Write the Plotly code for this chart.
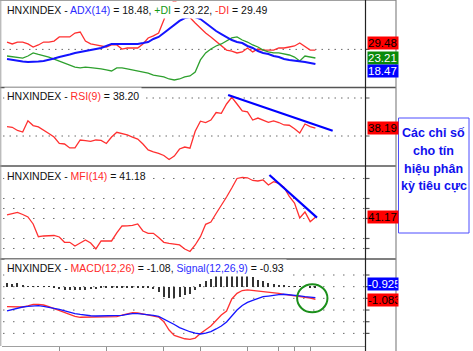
import plotly.graph_objects as go

W, H = 473, 351

days = list(range(60))

adx = [22.4,21.7,20.9,20.5,20.1,20.1,20.5,20.9,21.7,22.8,24,24.8,26,27.2,28,28.7,29.5,30.3,31.1,32.7,
       34.3,34.3,34.3,34.3,34.3,34.3,35,35.8,38.2,39.8,42.9,46.1,49.2,52.4,54.7,55.5,55.5,53.9,50.8,47.6,
       44.5,42.1,39.8,37.4,35.8,35,32.7,31.1,28.7,27.2,26.4,24.8,24,22.4,21.7,21.3,20.9,20.1,19.3,18.48]
plus_di = [24.8,24.4,24,23.2,24.8,27.2,26,25.2,24,22.4,20.9,19.3,17.7,16.1,15.4,16.1,15.7,15.4,14.6,13.8,
           13,15.4,15.4,14.6,13.8,13,12.2,11.4,9.8,9.1,8.3,6.7,5.9,6.7,8.3,9.1,12.2,21.7,27.2,30.3,
           32.7,34.3,37,39,39.8,37.4,35.8,33.5,31.9,29.5,28,27.2,27.2,26.4,25.6,24,20.9,24.8,24,23.22]
minus_di = [35.8,34.3,35.8,35.8,34.3,31.9,33.5,35.8,35.8,36.6,39.8,39.8,39.8,42.9,43.7,36.6,34.3,33.5,32.7,31.9,
            33.5,33.5,30.3,31.1,31.1,31.1,34.3,39,40.6,42.9,53.1,65,68.1,65.7,59.4,54.7,50.8,46.9,42.9,39.8,
            36.6,32.7,29.5,28.7,27.2,28,31.1,28,30.3,29.5,29.5,29.5,31.1,31.1,31.9,32.7,35,31.9,29.5,29.49]
rsi = [39.8,39.2,35.8,34.2,46.0,41.0,39.5,35.6,32.6,28.9,22.1,21.6,17.4,17.4,25.8,25.1,24.4,25.8,25.3,22.1,
       28.9,33.9,32.6,31.1,28.9,26.8,21.6,15.3,13.2,11.8,9.5,5.3,8.9,16.3,18.4,17.1,35.0,45.6,44.2,46.8,
       54.7,53.9,63.7,70.8,63.7,56.3,55.3,46.8,48.9,46.8,44.4,45.8,44.2,41.6,41.3,37.7,33.2,42.6,39.8,38.20]
mfi = [43.5,45,46,44,41.5,34.5,21.8,22.5,22.5,23,21.5,16.2,16.2,12.5,15.5,18.5,15.5,9.5,17.5,17.5,
       17.5,25.5,32.5,32.7,33,34.5,27.5,25.2,25.2,21,16.2,15.2,14.2,13.5,9.5,7,13.5,21.8,34.2,36.5,
       45,53,61.5,70.5,80,81,80.7,78,77.5,78.5,73.5,76.8,75.2,71,62,55.5,40.5,46.5,36.8,41.18]
macd = [-1.71,-1.71,-1.71,-1.74,-1.65,-1.51,-1.51,-1.57,-1.70,-1.87,-2.04,-2.25,-2.43,-2.55,-2.62,-2.62,-2.62,-2.62,-2.62,-2.60,
        -2.57,-2.57,-2.43,-2.30,-2.23,-2.25,-2.34,-2.43,-2.51,-2.60,-3.0,-3.71,-4.18,-4.35,-4.46,-4.51,-4.40,-4.01,-3.71,-3.37,
        -2.90,-2.43,-2.08,-1.05,-0.57,-0.33,-0.28,-0.33,-0.37,-0.43,-0.45,-0.48,-0.57,-0.65,-0.71,-0.77,-0.81,-0.86,-0.97,-1.08]
signal = [-2.08,-1.95,-1.85,-1.74,-1.68,-1.63,-1.63,-1.68,-1.74,-1.85,-1.95,-2.08,-2.19,-2.30,-2.38,-2.45,-2.49,-2.51,-2.51,-2.51,
          -2.51,-2.51,-2.45,-2.38,-2.30,-2.30,-2.34,-2.38,-2.45,-2.54,-2.75,-2.96,-3.24,-3.50,-3.71,-3.86,-3.97,-4.05,-3.97,-3.84,
          -3.62,-3.37,-3.02,-2.51,-2.0,-1.61,-1.35,-1.17,-1.01,-0.86,-0.80,-0.71,-0.68,-0.65,-0.68,-0.71,-0.78,-0.86,-0.88,-0.93]
hist = [0.35,0.25,0.3,0.1,0.05,0.05,0.05,0.05,0.05,-0.15,-0.2,-0.25,-0.25,-0.25,-0.25,-0.25,-0.2,-0.2,-0.1,-0.05,
        -0.05,-0.05,-0.05,-0.05,-0.05,-0.05,-0.05,-0.15,-0.2,-0.45,-0.85,-1.0,-1.0,-0.9,-0.75,-0.6,-0.3,0.2,0.5,0.7,
        0.95,1.0,1.0,1.0,1.0,1.1,1.0,0.85,0.6,0.5,0.3,0.2,0.15,0.1,0.05,0.03,0.02,0.0,-0.03,-0.05]

rsi_trend_x = [42.3, 62.3]
rsi_trend_y = [73.2, 35.6]
mfi_trend_x = [50.2, 59.3]
mfi_trend_y = [83.5, 40.8]
circle_x = [55.5, 61.3]
circle_y = [-2.19, 0.21]

adx_levels = [30]
rsi_levels = [70, 30]
mfi_levels = [80, 60, 50, 40, 20, 10]
macd_levels = [1, 0, -1, -2, -3, -4]
x_ticks = [10, 19, 30, 37, 46, 52, 55, 58]

titles = [
    'HNXINDEX - <span style="color:#2a2aff">ADX(14)</span> = 18.48, <span style="color:#119911">+DI</span> = 23.22, <span style="color:#ff2a2a">-DI</span> = 29.49',
    'HNXINDEX - <span style="color:#ff2a2a">RSI(9)</span> = 38.20',
    'HNXINDEX - <span style="color:#ff2a2a">MFI(14)</span> = 41.18',
    'HNXINDEX - <span style="color:#ff2a2a">MACD(12,26)</span> = -1.08, <span style="color:#2a2aff">Signal(12,26,9)</span> = -0.93',
]
value_labels = [
    # (text, bg, fg, pixel y)
    ("29.48", "#ff0000", "#000000", 43),
    ("23.21", "#0a8a0a", "#ffffff", 57.5),
    ("18.47", "#0000ff", "#ffffff", 71),
    ("38.19", "#ff0000", "#000000", 128),
    ("41.17", "#ff0000", "#000000", 216.7),
    ("-0.925", "#0000ff", "#ffffff", 284),
    ("-1.083", "#ff0000", "#000000", 300),
]
note_lines = ["Các chỉ số", "cho tín", "hiệu phân", "kỳ tiêu cực"]

RED = "#ff3030"
BLUE = "#1414ff"
GREEN = "#2ea02e"


def PX(x):
    return x / W


def PY(y):
    return 1 - y / H


panels = [(0, 87.5), (87.5, 166), (166, 259), (259, 346)]
ranges = [[0, 68.9], [-1.58, 81.05], [-0.52, 92.48], [-5.08, 2.37]]
title_y = [10, 96, 175.7, 267.7]

fig = go.Figure()

fig.add_trace(go.Scatter(x=days, y=minus_di, mode="lines", line=dict(color=RED, width=1.3), yaxis="y"))
fig.add_trace(go.Scatter(x=days, y=plus_di, mode="lines", line=dict(color=GREEN, width=1.3), yaxis="y"))
fig.add_trace(go.Scatter(x=days, y=adx, mode="lines", line=dict(color=BLUE, width=2), yaxis="y"))

fig.add_trace(go.Scatter(x=days, y=rsi, mode="lines", line=dict(color=RED, width=1.3), yaxis="y2"))
fig.add_trace(go.Scatter(x=rsi_trend_x, y=rsi_trend_y, mode="lines", line=dict(color="#0000ff", width=2.2), yaxis="y2"))

fig.add_trace(go.Scatter(x=days, y=mfi, mode="lines", line=dict(color=RED, width=1.3), yaxis="y3"))
fig.add_trace(go.Scatter(x=mfi_trend_x, y=mfi_trend_y, mode="lines", line=dict(color="#0000ff", width=2.2), yaxis="y3"))

fig.add_trace(go.Bar(x=days, y=hist, width=0.19, marker=dict(color="#333333", line=dict(width=0)), yaxis="y4"))
fig.add_trace(go.Scatter(x=days, y=macd, mode="lines", line=dict(color=RED, width=1.3), yaxis="y4"))
fig.add_trace(go.Scatter(x=days, y=signal, mode="lines", line=dict(color=BLUE, width=1.3), yaxis="y4"))

shapes = []
annotations = []

# dotted level lines
level_sets = [(adx_levels, "y", "1.5px,5px"), (rsi_levels, "y2", "1.5px,5px"),
              (mfi_levels, "y3", "1.5px,8.5px"), (macd_levels, "y4", "1.5px,8.5px")]
for levels, yref, dash in level_sets:
    for lv in levels:
        shapes.append(dict(type="line", xref="paper", yref=yref, x0=PX(3), x1=PX(365), y0=lv, y1=lv,
                           line=dict(color="#6a6a6a", width=1, dash=dash), layer="below"))
        shapes.append(dict(type="line", xref="paper", yref=yref, x0=PX(365), x1=PX(369.5), y0=lv, y1=lv,
                           line=dict(color="#555555", width=1.2)))

# panel borders
for yb in [87.5, 166, 259]:
    shapes.append(dict(type="line", xref="paper", yref="paper", x0=0, x1=PX(396), y0=PY(yb), y1=PY(yb),
                       line=dict(color="#555555", width=1.5)))
shapes.append(dict(type="line", xref="paper", yref="paper", x0=0, x1=PX(396), y0=PY(0.5), y1=PY(0.5),
                   line=dict(color="#a0a0a0", width=1)))
shapes.append(dict(type="line", xref="paper", yref="paper", x0=PX(0.8), x1=PX(0.8), y0=PY(0), y1=PY(346),
                   line=dict(color="#a0a0a0", width=1)))
shapes.append(dict(type="line", xref="paper", yref="paper", x0=PX(365.5), x1=PX(365.5), y0=PY(0), y1=PY(351),
                   line=dict(color="#222222", width=1.2)))
shapes.append(dict(type="line", xref="paper", yref="paper", x0=PX(396), x1=PX(396), y0=PY(0), y1=PY(351),
                   line=dict(color="#888888", width=1.2)))

# highlight circle
shapes.append(dict(type="circle", xref="x", yref="y4", x0=circle_x[0], x1=circle_x[1],
                   y0=circle_y[0], y1=circle_y[1], line=dict(color="#1b8f1b", width=2)))

# note box
shapes.append(dict(type="rect", xref="paper", yref="paper", x0=PX(398.5), x1=PX(469), y0=PY(118), y1=PY(233),
                   line=dict(color="#4d4dff", width=1), fillcolor="white"))

for t, ty in zip(titles, title_y):
    annotations.append(dict(text=t, x=PX(4), y=PY(ty), xref="paper", yref="paper", xanchor="left",
                            yanchor="middle", showarrow=False, bgcolor="white", borderpad=2,
                            font=dict(family="Liberation Sans, Arial", size=10.5, color="#111111")))

for txt, bg, fg, vy in value_labels:
    annotations.append(dict(text=txt, x=PX(366.5), y=PY(vy), xref="paper", yref="paper", xanchor="left",
                            yanchor="middle", showarrow=False, bgcolor=bg, borderpad=0, width=29.5,
                            height=11.5, align="left",
                            font=dict(family="Liberation Sans, Arial", size=11.5, color=fg)))

for i, line in enumerate(note_lines):
    annotations.append(dict(text="<b>" + line + "</b>", x=PX(433.5), y=PY(133 + i * 17.8), xref="paper",
                            yref="paper", xanchor="center", yanchor="middle", showarrow=False,
                            font=dict(family="Liberation Sans, Arial", size=12.5, color="#1010ee")))

layout = dict(
    width=W, height=H, autosize=False,
    margin=dict(l=0, r=0, t=0, b=0, pad=0),
    paper_bgcolor="white", plot_bgcolor="white",
    showlegend=False, bargap=0,
    shapes=shapes, annotations=annotations,
    xaxis=dict(domain=[PX(2), PX(365.5)], range=[-0.96, 68.58], anchor="y4",
               showgrid=False, zeroline=False, showline=True, linecolor="#a0a0a0", linewidth=1,
               ticks="outside", ticklen=4, tickcolor="#909090", tickvals=x_ticks, showticklabels=False,
               fixedrange=True),
)
for k, ((top, bot), rng) in enumerate(zip(panels, ranges)):
    name = "yaxis" if k == 0 else f"yaxis{k + 1}"
    layout[name] = dict(domain=[PY(bot), PY(top)], range=rng, anchor="x", showgrid=False,
                        zeroline=False, showticklabels=False, ticks="", showline=False, fixedrange=True)

fig.update_layout(**layout)
fig.write_html("out.html")
